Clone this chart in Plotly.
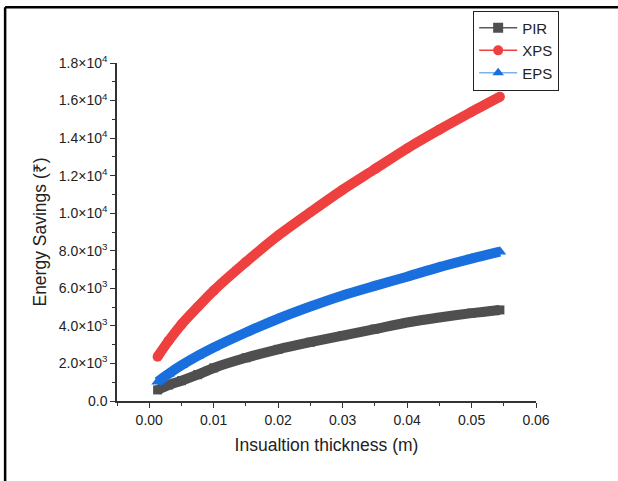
import plotly.graph_objects as go

# values
thickness = [0.0013, 0.003, 0.005, 0.0075, 0.01, 0.015, 0.02, 0.025, 0.03, 0.035, 0.04, 0.045, 0.05, 0.0544]
pir = [590, 850, 1080, 1400, 1760, 2300, 2750, 3130, 3480, 3830, 4180, 4450, 4680, 4850]
xps = [2360, 3200, 4080, 5000, 5880, 7400, 8810, 10050, 11250, 12350, 13450, 14450, 15400, 16200]
eps = [1030, 1450, 1900, 2400, 2850, 3650, 4380, 5030, 5620, 6130, 6620, 7130, 7580, 7950]

y_ticks = [0, 2000, 4000, 6000, 8000, 10000, 12000, 14000, 16000, 18000]
y_labels = ["0.0", "2.0×10<sup>3</sup>", "4.0×10<sup>3</sup>", "6.0×10<sup>3</sup>",
            "8.0×10<sup>3</sup>", "1.0×10<sup>4</sup>", "1.2×10<sup>4</sup>",
            "1.4×10<sup>4</sup>", "1.6×10<sup>4</sup>", "1.8×10<sup>4</sup>"]

# name, values, colour, legend line colour, symbol, marker size
series = [
    ("PIR", pir, "#4f4f4f", "#5a5a5a", "square", 9),
    ("XPS", xps, "#ef4040", "#ef4040", "circle", 10),
    ("EPS", eps, "#1a6fdf", "#7fb0f0", "triangle-up", 11),
]

fig = go.Figure()
for name, vals, col, legline, sym, msize in series:
    fig.add_trace(go.Scatter(x=thickness, y=vals, mode="lines+markers", showlegend=False,
                             line=dict(color=col, width=10, shape="spline", smoothing=0.8),
                             marker=dict(color=col, size=msize, symbol=sym)))
    # legend-only entry with thin line, like Origin's legend
    fig.add_trace(go.Scatter(x=[None], y=[None], mode="lines+markers", name=name,
                             line=dict(color=legline, width=1.5),
                             marker=dict(color=col, size=10, symbol=sym)))

fig.update_layout(
    width=618, height=481,
    margin=dict(l=117, r=82, t=63, b=80, autoexpand=False),
    plot_bgcolor="white", paper_bgcolor="white",
    font=dict(family="Liberation Sans, Arial", color="#222"),
    legend=dict(x=0.85, y=1.155, xanchor="left", yanchor="top",
                bordercolor="#222", borderwidth=1, bgcolor="white",
                font=dict(size=15), itemwidth=38, tracegroupgap=0),
    shapes=[
        dict(type="line", xref="paper", yref="paper", x0=-0.267, x1=1.2, y0=1.165, y1=1.165,
             line=dict(color="black", width=2.5)),
        dict(type="line", xref="paper", yref="paper", x0=-0.267, x1=-0.267, y0=-0.24, y1=1.165,
             line=dict(color="black", width=2.5)),
    ],
)
fig.update_xaxes(range=[-0.005, 0.06], tickvals=[0, 0.01, 0.02, 0.03, 0.04, 0.05, 0.06],
                 ticktext=["0.00", "0.01", "0.02", "0.03", "0.04", "0.05", "0.06"],
                 showgrid=False, zeroline=False, showline=True, linecolor="#333", linewidth=1.5,
                 ticks="outside", ticklen=5, tickcolor="#333", tickfont=dict(size=14),
                 minor=dict(ticks="outside", ticklen=3, tickcolor="#333", tick0=-0.005, dtick=0.01),
                 title=dict(text="Insualtion thickness (m)", font=dict(size=17.5), standoff=12))
fig.update_yaxes(range=[0, 18000], tickvals=y_ticks, ticktext=y_labels,
                 showgrid=False, zeroline=False, showline=True, linecolor="#333", linewidth=1.5,
                 ticks="outside", ticklen=5, tickcolor="#333", tickfont=dict(size=14),
                 minor=dict(ticks="outside", ticklen=3, tickcolor="#333", tick0=1000, dtick=2000),
                 title=dict(text="Energy Savings (₹)", font=dict(size=17.5), standoff=8))

fig.write_html("out.html", config={"displayModeBar": False},
               post_script="document.body.style.margin='0';")
